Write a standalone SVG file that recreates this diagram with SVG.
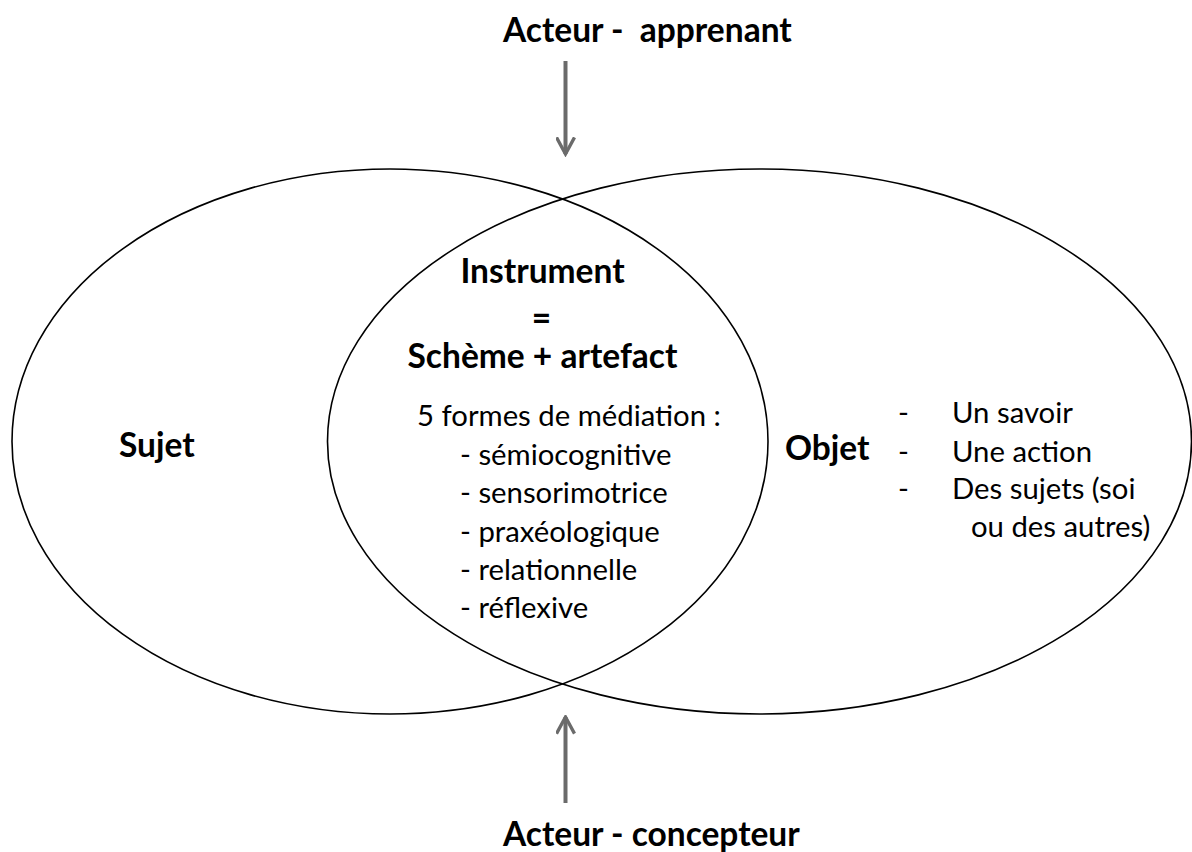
<svg xmlns="http://www.w3.org/2000/svg" width="1192" height="852" viewBox="0 0 1192 852">
<style>
.t{font-family:Lato,"Liberation Sans",sans-serif;fill:#000}
.b{font-weight:bold;font-size:33.5px}
.r{font-size:29.3px}
.ell{fill:none;stroke:#000;stroke-width:1.6}
.arr{fill:none;stroke:#6b6b6b;stroke-width:4}
</style>
<defs>
<marker id="chev" viewBox="0 0 12 12" refX="10.5" refY="6" markerWidth="5" markerHeight="5" orient="auto" markerUnits="strokeWidth">
<path d="M0.5,0.6 L10.5,6 L0.5,11.4" fill="none" stroke="#6b6b6b" stroke-width="2"/>
</marker>
</defs>
<rect width="1192" height="852" fill="#fff"/>
<g id="sujet">
<ellipse class="ell" cx="390" cy="441.5" rx="378" ry="272.5"/>
<text class="t b" x="119" y="457">Sujet</text>
</g>
<g id="objet">
<ellipse class="ell" cx="759.5" cy="441.5" rx="432" ry="272.5"/>
<text class="t b" x="785" y="460">Objet</text>
<text class="t r" x="898" y="423">-</text>
<text class="t r" x="952" y="423">Un savoir</text>
<text class="t r" x="898" y="462">-</text>
<text class="t r" x="952" y="462">Une action</text>
<text class="t r" x="898" y="499">-</text>
<text class="t r" x="952" y="499">Des sujets (soi</text>
<text class="t r" x="971" y="537">ou des autres)</text>
</g>
<g id="instrument">
<text class="t b" x="542.5" y="283" text-anchor="middle">Instrument</text>
<text class="t b" x="541.5" y="330" text-anchor="middle">=</text>
<text class="t b" x="542.5" y="368" text-anchor="middle">Schème + artefact</text>
<text class="t r" x="417" y="426">5 formes de médiation :</text>
<text class="t r" x="460" y="465">- sémiocognitive</text>
<text class="t r" x="460" y="503">- sensorimotrice</text>
<text class="t r" x="460" y="542">- praxéologique</text>
<text class="t r" x="460" y="580">- relationnelle</text>
<text class="t r" x="460" y="618">- réflexive</text>
</g>
<g id="acteur-apprenant">
<text class="t b" x="503" y="42" xml:space="preserve">Acteur -  apprenant</text>
</g>
<g id="acteur-concepteur">
<text class="t b" x="503" y="846">Acteur - concepteur</text>
</g>
<g id="connectors">
<line class="arr" x1="565.5" y1="61" x2="565.5" y2="154" marker-end="url(#chev)"/>
<line class="arr" x1="565.5" y1="803" x2="565.5" y2="717" marker-end="url(#chev)"/>
</g>
</svg>
